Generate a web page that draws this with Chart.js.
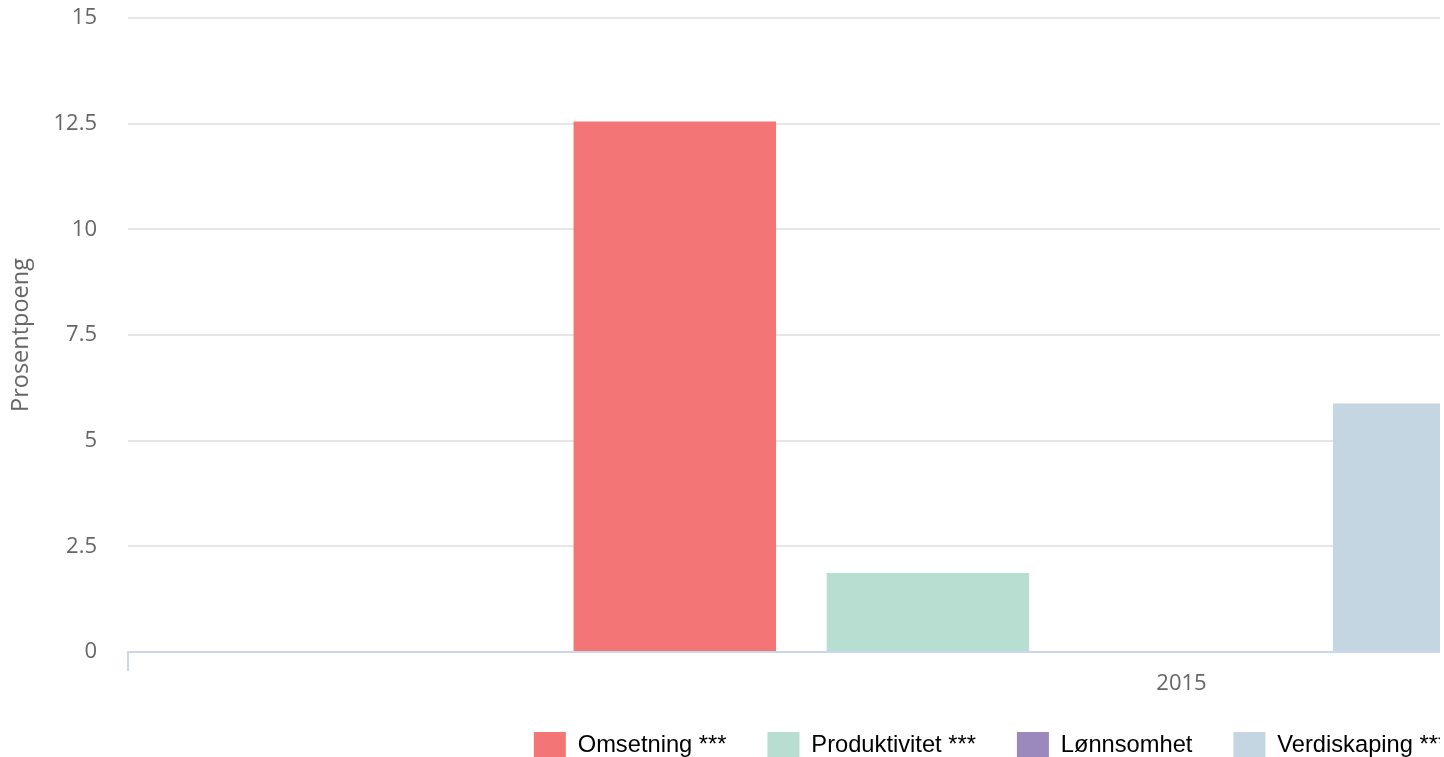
<!DOCTYPE html>
<html>
<head>
<meta charset="utf-8">
<script src="https://cdn.jsdelivr.net/npm/chart.js@4"></script>
<style>
  html, body { margin: 0; padding: 0; background: #fff; overflow: hidden; }
  #wrap { width: 1440px; height: 757px; overflow: hidden; }
</style>
</head>
<body>
<div id="wrap"><canvas id="chart" width="1981" height="768"></canvas></div>
<script>
// data
const categories = ['2015'];
const seriesNames = ['Omsetning ***', 'Produktivitet ***', 'Lønnsomhet', 'Verdiskaping ***'];
const omsetning = [12.55];
const produktivitet = [1.87];
const lonnsomhet = [0];
const verdiskaping = [5.88];
const yTicks = [0, 2.5, 5, 7.5, 10, 12.5, 15];

const colors = ['#f47575', '#b8ded1', '#9b88bc', '#c4d6e1'];
const seriesData = [omsetning, produktivitet, lonnsomhet, verdiskaping];

const tickFont = { family: '"Open Sans", sans-serif', size: 22 };

const ctx = document.getElementById('chart').getContext('2d');
new Chart(ctx, {
    type: 'bar',
    data: {
        labels: categories,
        datasets: seriesNames.map((name, i) => ({
            label: name,
            data: seriesData[i],
            backgroundColor: colors[i],
            borderWidth: 0,
            categoryPercentage: 0.5464,
            barPercentage: 0.8
        }))
    },
    options: {
        responsive: false,
        devicePixelRatio: 1,
        animation: false,
        layout: { padding: { top: 18, left: 0, right: 0, bottom: 0 } },
        plugins: {
            tooltip: { enabled: false },
            legend: {
                position: 'bottom',
                labels: {
                    boxWidth: 32,
                    boxHeight: 26,
                    padding: 41,
                    color: '#000',
                    font: { family: '"Liberation Sans", Arial, sans-serif', size: 23.7 }
                }
            }
        },
        scales: {
            x: {
                grid: {
                    offset: true,
                    drawOnChartArea: false,
                    tickLength: 19,
                    color: '#ccd6eb',
                    lineWidth: 2
                },
                border: { color: '#ccd6eb', width: 2 },
                ticks: { color: '#666', font: tickFont, labelOffset: 127, padding: 0 },
                afterFit: (axis) => { axis.height = 39; }
            },
            y: {
                min: 0,
                max: 15,
                afterBuildTicks: (axis) => { axis.ticks = yTicks.map(v => ({ value: v })); },
                grid: { color: '#e6e6e6', lineWidth: 2, drawTicks: false },
                border: { display: false },
                ticks: { color: '#666', font: tickFont, padding: 31 },
                title: {
                    display: true,
                    text: 'Prosentpoeng',
                    color: '#666',
                    font: { family: '"Open Sans", sans-serif', size: 23.5 },
                    padding: { top: 7, bottom: 0 }
                },
                afterFit: (axis) => {
                    axis.width = 128;
                    axis.paddingTop = 0;
                    axis.paddingBottom = 0;
                }
            }
        }
    }
});
</script>
</body>
</html>
